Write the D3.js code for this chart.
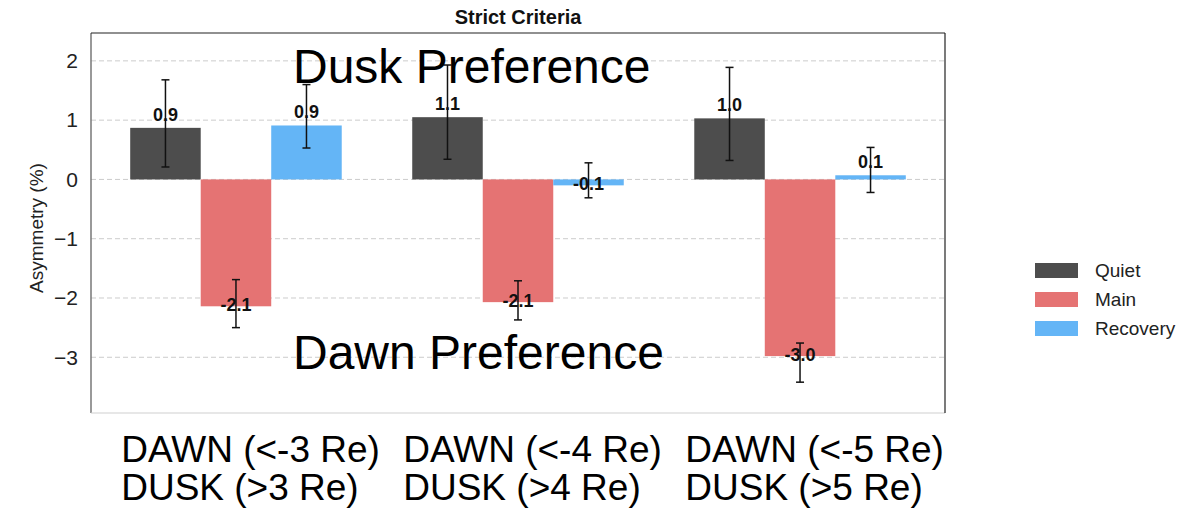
<!DOCTYPE html>
<html>
<head>
<meta charset="utf-8">
<script src="https://cdn.jsdelivr.net/npm/d3@7"></script>
<style>
  body { margin: 0; background: #fff; }
  svg { font-family: "Liberation Sans", Arial, sans-serif; }
</style>
</head>
<body>
<div id="viz"></div>
<script>
// categories (two-line x labels) and series names
const groups = ["g3", "g4", "g5"];
const dawnLabels = ["DAWN (<-3 Re)", "DAWN (<-4 Re)", "DAWN (<-5 Re)"];
const duskLabels = ["DUSK (>3 Re)", "DUSK (>4 Re)", "DUSK (>5 Re)"];
const seriesNames = ["Quiet", "Main", "Recovery"];
const seriesColors = ["#4d4d4d", "#e57373", "#64b5f6"];

// asymmetry values (%) per series
const quiet = [0.87, 1.05, 1.03];
const main = [-2.14, -2.07, -2.98];
const recovery = [0.91, -0.10, 0.07];

// error bar ends (low / high)
const quietLo = [0.21, 0.34, 0.32];
const quietHi = [1.68, 1.93, 1.89];
const mainLo = [-2.50, -2.37, -3.42];
const mainHi = [-1.69, -1.71, -2.76];
const recoveryLo = [0.53, -0.31, -0.22];
const recoveryHi = [1.60, 0.28, 0.54];

const yTicks = [-3, -2, -1, 0, 1, 2];

const values = [quiet, main, recovery];
const lows = [quietLo, mainLo, recoveryLo];
const highs = [quietHi, mainHi, recoveryHi];

const W = 1183, H = 512;
const mLeft = 91, mRight = 945, mTop = 33, mBottom = 413;

const svg = d3.select("#viz")
    .append("svg")
    .attr("width", W)
    .attr("height", H);

// scales
const x0 = d3.scaleBand()
    .domain(groups)
    .range([mLeft, mRight])
    .paddingInner(0.25)
    .paddingOuter(0.139);

const x1 = d3.scaleBand()
    .domain(seriesNames)
    .range([0, x0.bandwidth()]);

const y = d3.scaleLinear()
    .domain([-3.94, 2.47])
    .range([mBottom, mTop]);

// dashed grid
svg.append("g")
    .selectAll("line")
    .data(yTicks)
    .enter()
    .append("line")
    .attr("x1", mLeft)
    .attr("x2", mRight)
    .attr("y1", d => y(d))
    .attr("y2", d => y(d))
    .attr("stroke", "#cccccc")
    .attr("stroke-width", 1)
    .attr("stroke-dasharray", "5,3");

// flatten the data for bars
const rows = [];
groups.forEach((g, i) => {
    seriesNames.forEach((s, j) => {
        rows.push({ g: g, s: s, color: seriesColors[j], v: values[j][i], lo: lows[j][i], hi: highs[j][i] });
    });
});

const cx = d => x0(d.g) + x1(d.s) + x1.bandwidth() / 2;

// bars
svg.selectAll(".bar")
    .data(rows)
    .enter()
    .append("rect")
    .attr("class", "bar")
    .attr("x", d => x0(d.g) + x1(d.s))
    .attr("y", d => y(Math.max(0, d.v)))
    .attr("width", x1.bandwidth())
    .attr("height", d => Math.abs(y(d.v) - y(0)))
    .attr("fill", d => d.color);

// value labels
svg.selectAll(".lbl")
    .data(rows)
    .enter()
    .append("text")
    .attr("class", "lbl")
    .attr("x", cx)
    .attr("y", d => d.v >= 0 ? y(d.v) - 7 : y(d.v) + 5)
    .attr("text-anchor", "middle")
    .attr("font-size", 18)
    .attr("font-weight", "bold")
    .attr("fill", "#111")
    .text(d => d.v.toFixed(1));

// error bars
const eb = svg.selectAll(".err")
    .data(rows)
    .enter()
    .append("g")
    .attr("class", "err")
    .attr("stroke", "#111")
    .attr("stroke-width", 1.5);

eb.append("line")
    .attr("x1", cx)
    .attr("x2", cx)
    .attr("y1", d => y(d.lo))
    .attr("y2", d => y(d.hi));

["lo", "hi"].forEach(k => {
    eb.append("line")
        .attr("x1", d => cx(d) - 4)
        .attr("x2", d => cx(d) + 4)
        .attr("y1", d => y(d[k]))
        .attr("y2", d => y(d[k]));
});

// y axis
const yAxis = svg.append("g")
    .attr("transform", `translate(${mLeft},0)`)
    .call(d3.axisLeft(y)
        .tickValues(yTicks)
        .tickFormat(d => d < 0 ? "\u2212" + Math.abs(d) : String(d))
        .tickSize(0)
        .tickPadding(13));
yAxis.select(".domain").remove();
yAxis.selectAll("text")
    .attr("font-size", 21)
    .attr("font-family", "Liberation Sans, Arial, sans-serif")
    .attr("fill", "#222");

// spines
svg.append("line").attr("x1", mLeft).attr("x2", mLeft).attr("y1", mTop).attr("y2", mBottom)
    .attr("stroke", "#777").attr("stroke-width", 1.5);
svg.append("line").attr("x1", mLeft).attr("x2", mRight).attr("y1", mBottom).attr("y2", mBottom)
    .attr("stroke", "#d0d0d0").attr("stroke-width", 1.2);
svg.append("line").attr("x1", mLeft).attr("x2", mRight).attr("y1", mTop).attr("y2", mTop)
    .attr("stroke", "#222").attr("stroke-width", 1.2);
svg.append("line").attr("x1", mRight).attr("x2", mRight).attr("y1", mTop).attr("y2", mBottom)
    .attr("stroke", "#222").attr("stroke-width", 1.2);

// y axis label
svg.append("text")
    .attr("transform", `translate(43,${(mTop + mBottom) / 2 + 5}) rotate(-90)`)
    .attr("text-anchor", "middle")
    .attr("font-size", 19)
    .attr("fill", "#222")
    .text("Asymmetry (%)");

// title
svg.append("text")
    .attr("x", (mLeft + mRight) / 2)
    .attr("y", 24)
    .attr("text-anchor", "middle")
    .attr("font-size", 20)
    .attr("font-weight", "bold")
    .attr("fill", "#111")
    .text("Strict Criteria");

// big annotations
svg.append("text")
    .attr("x", 293)
    .attr("y", 83)
    .attr("font-size", 48)
    .attr("fill", "#000")
    .text("Dusk Preference");

svg.append("text")
    .attr("x", 293)
    .attr("y", 369)
    .attr("font-size", 48)
    .attr("fill", "#000")
    .text("Dawn Preference");

// two-line x labels
const xl = svg.selectAll(".xl")
    .data(groups)
    .enter()
    .append("text")
    .attr("class", "xl")
    .attr("font-size", 37)
    .attr("fill", "#000");
xl.append("tspan")
    .attr("x", d => x0(d) - 9)
    .attr("y", 462)
    .text((d, i) => dawnLabels[i]);
xl.append("tspan")
    .attr("x", d => x0(d) - 9)
    .attr("y", 500)
    .text((d, i) => duskLabels[i]);

// legend
const leg = svg.append("g")
    .attr("transform", "translate(1035,263)");
seriesNames.forEach((s, j) => {
    leg.append("rect")
        .attr("x", 0)
        .attr("y", j * 29)
        .attr("width", 43)
        .attr("height", 15)
        .attr("fill", seriesColors[j]);
    leg.append("text")
        .attr("x", 60)
        .attr("y", j * 29 + 14)
        .attr("font-size", 19)
        .attr("fill", "#222")
        .text(s);
});
</script>
</body>
</html>
